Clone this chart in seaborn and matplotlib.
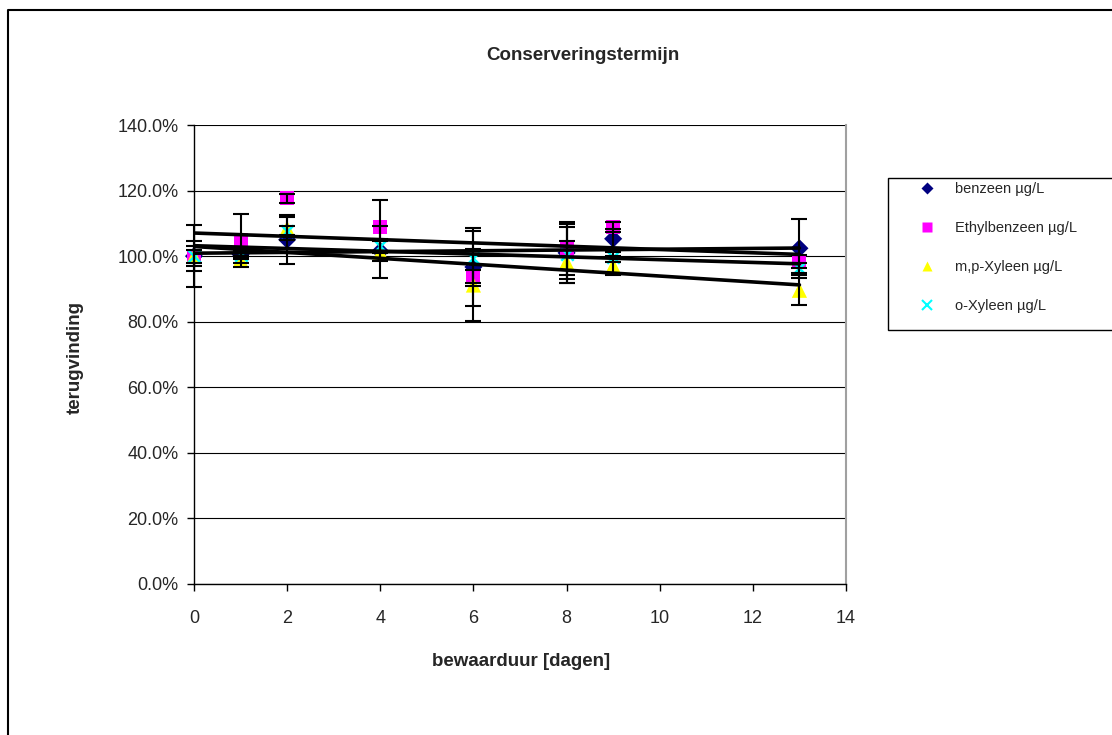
import numpy as np
import pandas as pd
import matplotlib
matplotlib.use('Agg')
import matplotlib.pyplot as plt
import seaborn as sns
from matplotlib.patches import Rectangle
from matplotlib.lines import Line2D
from matplotlib.ticker import FuncFormatter, MultipleLocator

# Data (recovery in %)
dagen = [0, 1, 2, 4, 6, 8, 9, 13]
benzeen = [100.0, 100.5, 105.0, 101.5, 96.7, 101.0, 105.3, 102.4]
ethylbenzeen = [100.0, 104.8, 117.6, 109.0, 93.7, 102.3, 109.0, 98.4]
mp_xyleen = [100.0, 99.0, 108.5, 101.2, 91.2, 98.2, 97.1, 89.6]
o_xyleen = [100.0, 100.2, 107.8, 103.2, 99.3, 100.7, 99.7, 96.3]

# error bars (+/-)
err_benzeen = [9.4, 1.0, 7.4, 3.0, 12.0, 8.0, 3.0, 9.0]
err_ethyl = [4.6, 8.2, 1.5, 8.0, 2.0, 8.0, 1.5, 2.0]
err_mp = [2.0, 1.0, 3.5, 8.0, 11.0, 6.5, 3.0, 4.5]
err_o = [3.0, 1.0, 1.5, 2.0, 8.5, 9.0, 1.5, 1.5]

labels = ['benzeen µg/L', 'Ethylbenzeen µg/L', 'm,p-Xyleen µg/L', 'o-Xyleen µg/L']
series = [benzeen, ethylbenzeen, mp_xyleen, o_xyleen]
errors = [err_benzeen, err_ethyl, err_mp, err_o]
colors = ['#000080', '#FF00FF', '#FFFF00', '#00FFFF']
markers = ['D', 's', '^', 'x']
sizes = [85, 100, 120, 80]

sns.set_style('white')
plt.rcParams['font.family'] = ['Liberation Sans', 'DejaVu Sans']

W, H = 1112, 735
fig = plt.figure(figsize=(W / 100, H / 100), dpi=100)
ax = fig.add_axes([194 / W, 1 - 584 / H, (846 - 194) / W, (584 - 125) / H])

for vals, err, lab, col, mk, sz in zip(series, errors, labels, colors, markers, sizes):
    df = pd.DataFrame({'dag': dagen, 'waarde': vals})
    kw = dict(edgecolor='none') if mk != 'x' else dict(linewidth=1.8)
    sns.scatterplot(data=df, x='dag', y='waarde', marker=mk, color=col, s=sz,
                    ax=ax, label=lab, zorder=3, legend=False, clip_on=False, **kw)
    eb = ax.errorbar(dagen, vals, yerr=err, fmt='none', ecolor='black', elinewidth=1.5,
                     capsize=5.5, capthick=1.5, zorder=4)
    for art in eb.lines[1] + eb.lines[2]:
        art.set_clip_on(False)

for vals in series:
    sns.regplot(x=np.array(dagen), y=np.array(vals), scatter=False, ci=None,
                color='black', line_kws={'lw': 2.6, 'zorder': 5}, ax=ax)

ax.set_xlim(0, 14)
ax.set_ylim(0, 140)
ax.xaxis.set_major_locator(MultipleLocator(2))
ax.yaxis.set_major_locator(MultipleLocator(20))
ax.yaxis.set_major_formatter(FuncFormatter(lambda v, p: f'{v:.1f}%'))
ax.grid(axis='y', color='black', linewidth=0.8)
ax.set_axisbelow(True)
ax.set_xlabel('')
ax.set_ylabel('')
for s in ['left', 'bottom']:
    ax.spines[s].set_color('black')
    ax.spines[s].set_linewidth(1.0)
ax.spines['top'].set_visible(False)
ax.spines['right'].set_color('#a0a0a0')
ax.spines['right'].set_linewidth(1.5)
ax.tick_params(axis='both', direction='out', length=5, width=1, color='black',
               labelsize=13, left=True, bottom=True, pad=6)
ax.tick_params(axis='x', pad=14)

fig.text(583 / W, 1 - 56 / H, 'Conserveringstermijn', ha='center', va='center',
         fontsize=13.5, fontweight='bold')
fig.text(521 / W, 1 - 662 / H, 'bewaarduur [dagen]', ha='center', va='center',
         fontsize=13.5, fontweight='bold')
fig.text(75 / W, 1 - 357 / H, 'terugvinding', ha='center', va='center',
         rotation=90, fontsize=13.5, fontweight='bold')

# legend box (runs off the right edge like the reference)
fig.patches.append(Rectangle((888 / W, 1 - 330 / H), 300 / W, 152 / H,
                             transform=fig.transFigure, facecolor='white',
                             edgecolor='black', linewidth=1.0))
handles = []
for lab, col, mk in zip(labels, colors, markers):
    if mk == 'x':
        h = Line2D([], [], marker=mk, color=col, linestyle='none', markersize=7, markeredgewidth=1.5)
    else:
        h = Line2D([], [], marker=mk, color=col, linestyle='none', markersize=7.5 if mk != 'D' else 6,
                   markeredgecolor='none')
    handles.append(h)
fig.legend(handles, labels, loc='upper left', bbox_to_anchor=(905 / W, 1 - 169 / H),
           frameon=False, fontsize=10.5, labelspacing=1.72, handletextpad=1.3,
           handlelength=1.2)

# outer chart border (left and top edges only visible)
fig.lines.append(Line2D([8 / W, 8 / W, 1.0], [0.0, 1 - 10 / H, 1 - 10 / H],
                        transform=fig.transFigure, color='black', linewidth=1.5))

fig.savefig('out.png', dpi=100, facecolor='white')
